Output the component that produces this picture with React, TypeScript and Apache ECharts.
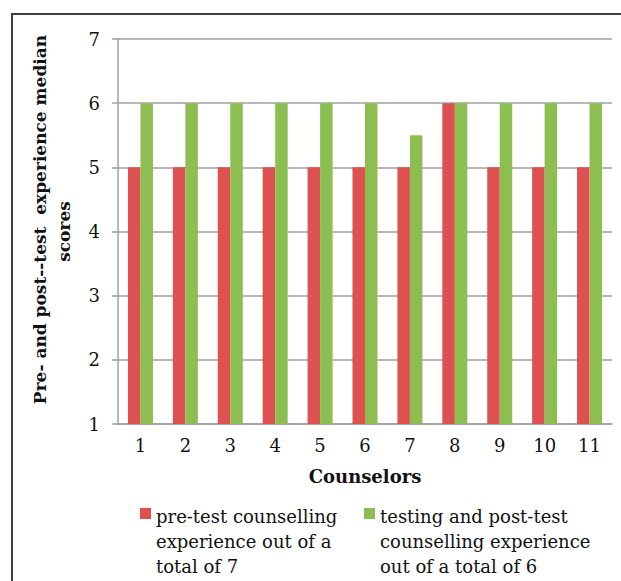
import React, { useEffect, useRef } from "react";
import * as echarts from "echarts";

const counselors = ["1", "2", "3", "4", "5", "6", "7", "8", "9", "10", "11"];
const preTest = [5, 5, 5, 5, 5, 5, 5, 6, 5, 5, 5];
const postTest = [6, 6, 6, 6, 6, 6, 5.5, 6, 6, 6, 6];
const preName = "pre-test counselling\nexperience out of a\ntotal of 7";
const postName = "testing and post-test\ncounselling experience\nout of a total of 6";
const yTitleLine1 = "Pre- and post--test  experience median";
const yTitleLine2 = "scores";
const yTicks = [1, 7, 1];

const FONT = "DejaVu Serif";
const ICON = "path://M0,0M0,75M0,4H11V15H0Z";

export default function App() {
  const ref = useRef<HTMLDivElement>(null);
  useEffect(() => {
    if (!ref.current) return;
    const chart = echarts.init(ref.current, undefined, { renderer: "svg" });
    const legendBase = {
      orient: "vertical",
      top: 504,
      padding: 0,
      itemWidth: 11,
      itemHeight: 75,
      itemGap: 0,
      icon: ICON,
      textStyle: { fontFamily: FONT, fontSize: 18, color: "#111", lineHeight: 25, padding: [0, 0, 0, 0] },
      itemStyle: { borderWidth: 0 },
    };
    const titleFont = { fontFamily: FONT, fontSize: 17, fontWeight: "bold", color: "#111", lineHeight: 24 };
    chart.setOption({
      animation: false,
      backgroundColor: "#fff",
      grid: { left: 118, right: 9, top: 39, bottom: 157, containLabel: false },
      graphic: [
        {
          type: "rect",
          shape: { x: 12, y: 14, width: 700, height: 700 },
          style: { fill: "none", stroke: "#404040", lineWidth: 2 },
          silent: true,
        },
      ],
      legend: [
        { ...legendBase, left: 140, data: [preName] },
        { ...legendBase, left: 364, data: [postName] },
      ],
      xAxis: {
        type: "category",
        data: counselors,
        name: "Counselors",
        nameLocation: "middle",
        nameGap: 43,
        nameTextStyle: { fontFamily: FONT, fontSize: 18, fontWeight: "bold", color: "#111" },
        axisLine: { lineStyle: { color: "#a0a0a0", width: 1.5 } },
        axisTick: { show: false },
        axisLabel: { fontFamily: FONT, fontSize: 18, color: "#111", margin: 12 },
      },
      yAxis: {
        type: "value",
        min: yTicks[0],
        max: yTicks[1],
        interval: yTicks[2],
        name: "{a|" + yTitleLine1 + "}\n{b|" + yTitleLine2 + "}",
        nameLocation: "middle",
        nameGap: 42,
        nameRotate: 90,
        nameTextStyle: {
          ...titleFont,
          rich: {
            a: { ...titleFont, padding: [0, 0, 0, 24] },
            b: { ...titleFont },
          },
        },
        axisLine: { show: true, lineStyle: { color: "#a0a0a0", width: 1.5 } },
        axisTick: { show: true, length: 6, lineStyle: { color: "#a0a0a0", width: 1.5 } },
        axisLabel: { fontFamily: FONT, fontSize: 18, color: "#111", margin: 18 },
        splitLine: { show: true, lineStyle: { color: "#a0a0a0", width: 1.5 } },
      },
      series: [
        {
          name: preName,
          type: "bar",
          data: preTest,
          barWidth: 12.5,
          barGap: "0%",
          itemStyle: { color: "#DD5151" },
        },
        {
          name: postName,
          type: "bar",
          data: postTest,
          barWidth: 12.5,
          barGap: "0%",
          itemStyle: { color: "#8DBE51" },
        },
      ],
    });
    return () => chart.dispose();
  }, []);
  return (
    <div
      ref={ref}
      style={{ position: "fixed", left: 0, top: 0, width: 621, height: 581, background: "#fff" }}
    />
  );
}
